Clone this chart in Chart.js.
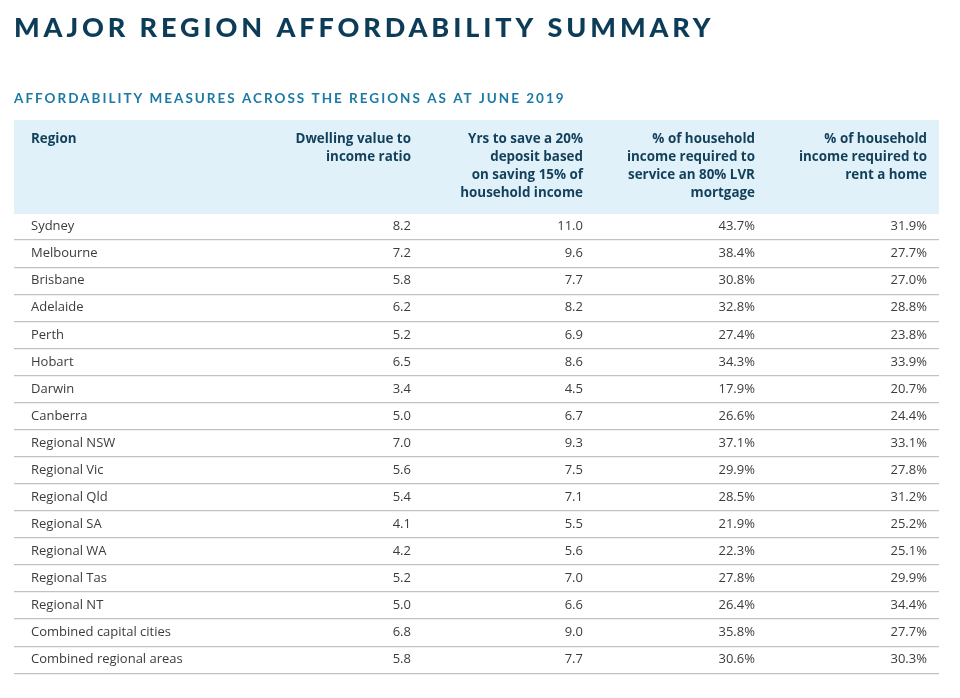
<!DOCTYPE html>
<html>
<head>
<meta charset="utf-8">
<script src="https://cdn.jsdelivr.net/npm/chart.js"></script>
<style>
  html, body { margin: 0; padding: 0; background: #fff; }
</style>
</head>
<body>
<canvas id="table" width="960" height="698"></canvas>
<script>
var regions = ["Sydney", "Melbourne", "Brisbane", "Adelaide", "Perth", "Hobart", "Darwin", "Canberra",
  "Regional NSW", "Regional Vic", "Regional Qld", "Regional SA", "Regional WA", "Regional Tas",
  "Regional NT", "Combined capital cities", "Combined regional areas"];
var dwellingRatio = [8.2, 7.2, 5.8, 6.2, 5.2, 6.5, 3.4, 5.0, 7.0, 5.6, 5.4, 4.1, 4.2, 5.2, 5.0, 6.8, 5.8];
var yrsToSave = [11.0, 9.6, 7.7, 8.2, 6.9, 8.6, 4.5, 6.7, 9.3, 7.5, 7.1, 5.5, 5.6, 7.0, 6.6, 9.0, 7.7];
var mortgagePct = [43.7, 38.4, 30.8, 32.8, 27.4, 34.3, 17.9, 26.6, 37.1, 29.9, 28.5, 21.9, 22.3, 27.8, 26.4, 35.8, 30.6];
var rentPct = [31.9, 27.7, 27.0, 28.8, 23.8, 33.9, 20.7, 24.4, 33.1, 27.8, 31.2, 25.2, 25.1, 29.9, 34.4, 27.7, 30.3];
var firstHead = "Region";
var columnHeads = [
  ["Dwelling value to", "income ratio"],
  ["Yrs to save a 20%", "deposit based", "on saving 15% of", "household income"],
  ["% of household", "income required to", "service an 80% LVR", "mortgage"],
  ["% of household", "income required to", "rent a home"]
];
var columnSuffix = ["", "", "%", "%"];
var titleText = "MAJOR REGION AFFORDABILITY SUMMARY";
var subtitleText = "AFFORDABILITY MEASURES ACROSS THE REGIONS AS AT JUNE 2019";

var columns = [dwellingRatio, yrsToSave, mortgagePct, rentPct];
var BODY_FONT = "'Open Sans', 'Noto Sans', sans-serif";
var HEAD_H = 93;

var tableText = {
  id: "tableText",
  afterDatasetsDraw: function (chart) {
    var ctx = chart.ctx, area = chart.chartArea;
    var xs = chart.scales.x;
    ctx.save();
    // header band
    ctx.fillStyle = "#e0f1f9";
    ctx.fillRect(area.left, area.top - HEAD_H, area.right - area.left, HEAD_H + 1);
    // header texts
    ctx.fillStyle = "#123f5a";
    ctx.font = "bold 13.4px " + BODY_FONT;
    ctx.textBaseline = "middle";
    ctx.textAlign = "left";
    ctx.fillText(firstHead, area.left + 17, area.top - HEAD_H + 19);
    ctx.textAlign = "right";
    columnHeads.forEach(function (lines, j) {
      var x = xs.getPixelForValue(j + 1);
      lines.forEach(function (ln, k) {
        ctx.fillText(ln, x, area.top - HEAD_H + 19 + k * 18);
      });
    });
    // cell values
    ctx.fillStyle = "#3c3c3c";
    ctx.font = "13px " + BODY_FONT;
    chart.data.datasets.forEach(function (ds, j) {
      var meta = chart.getDatasetMeta(j);
      meta.data.forEach(function (pt, i) {
        ctx.fillText(columns[j][i].toFixed(1) + columnSuffix[j], pt.x, pt.y);
      });
    });
    ctx.restore();
  },
  afterDraw: function (chart) {
    var ctx = chart.ctx, area = chart.chartArea;
    ctx.save();
    ctx.textAlign = "left";
    ctx.textBaseline = "middle";
    ctx.fillStyle = "#0d3c58";
    ctx.font = "900 27px Lato, 'Open Sans', sans-serif";
    ctx.letterSpacing = "3.9px";
    ctx.fillText(titleText, area.left, 28);
    ctx.fillStyle = "#1b7aa3";
    ctx.font = "bold 13.5px Lato, 'Open Sans', sans-serif";
    ctx.letterSpacing = "2px";
    ctx.fillText(subtitleText, area.left, 99);
    ctx.restore();
  }
};

var datasets = columns.map(function (vals, j) {
  return {
    label: columnHeads[j].join(" "),
    data: regions.map(function (r) { return { x: j + 1, y: r }; }),
    pointRadius: 0,
    pointHoverRadius: 0
  };
});

new Chart(document.getElementById("table"), {
  type: "scatter",
  data: { labels: regions, datasets: datasets },
  options: {
    responsive: false,
    animation: false,
    events: [],
    layout: { padding: { top: 213, bottom: 24, left: 14, right: 21 } },
    plugins: { legend: { display: false }, tooltip: { enabled: false }, title: { display: false } },
    scales: {
      x: { type: "linear", display: false, min: -1.308, max: 4.07 },
      y: {
        type: "category",
        labels: regions,
        offset: true,
        border: { display: false },
        grid: { offset: true, drawTicks: false, color: "#c2c2c2", lineWidth: 1.2 },
        afterFit: function (scale) { scale.width = 0; },
        ticks: {
          mirror: true,
          padding: 17,
          color: "#3c3c3c",
          font: { family: BODY_FONT, size: 13 }
        }
      }
    }
  },
  plugins: [tableText]
});
</script>
</body>
</html>
